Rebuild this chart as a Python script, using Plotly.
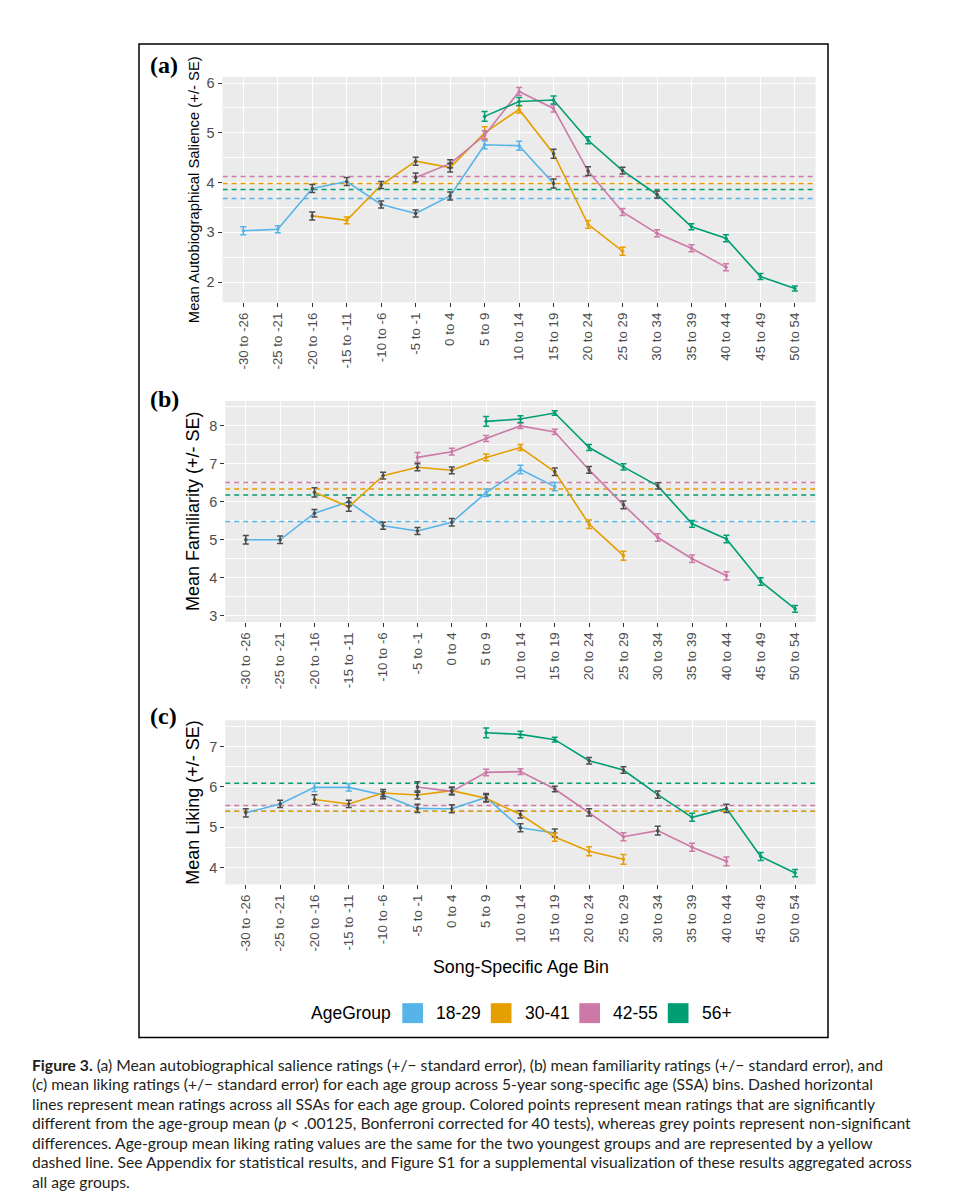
import plotly.graph_objects as go

# Categorías del eje x (bins de edad específica de la canción)
BINS = ["-30 to -26", "-25 to -21", "-20 to -16", "-15 to -11", "-10 to -6",
        "-5 to -1", "0 to 4", "5 to 9", "10 to 14", "15 to 19", "20 to 24",
        "25 to 29", "30 to 34", "35 to 39", "40 to 44", "45 to 49", "50 to 54"]

GROUPS = ["18-29", "30-41", "42-55", "56+"]
COLORS = ["#56B4E9", "#E69F00", "#CC79A7", "#009E73"]
GREY = "#4D4D4D"
N = None

# (a) Autobiographical salience
sal_18_29 = [3.03, 3.06, 3.88, 4.02, 3.56, 3.38, 3.73, 4.76, 4.74, 3.98, N, N, N, N, N, N, N]
sal_18_29_se = [0.08, 0.07, 0.08, 0.08, 0.07, 0.07, 0.08, 0.08, 0.09, 0.09, N, N, N, N, N, N, N]
sal_18_29_sig = [1, 1, 0, 0, 0, 0, 0, 1, 1, 0, N, N, N, N, N, N, N]
sal_30_41 = [N, N, 3.33, 3.24, 3.95, 4.43, 4.30, 5.00, 5.47, 4.58, 3.16, 2.62, N, N, N, N, N]
sal_30_41_se = [N, N, 0.08, 0.07, 0.07, 0.08, 0.09, 0.12, 0.07, 0.09, 0.08, 0.08, N, N, N, N, N]
sal_30_41_sig = [N, N, 0, 1, 0, 0, 0, 1, 1, 0, 1, 1, N, N, N, N, N]
sal_42_55 = [N, N, N, N, N, 4.10, 4.38, 4.95, 5.83, 5.49, 4.23, 3.41, 2.98, 2.68, 2.30, N, N]
sal_42_55_se = [N, N, N, N, N, 0.09, 0.08, 0.09, 0.08, 0.07, 0.09, 0.07, 0.07, 0.07, 0.07, N, N]
sal_42_55_sig = [N, N, N, N, N, 0, 0, 1, 1, 1, 0, 1, 1, 1, 1, N, N]
sal_56 = [N, N, N, N, N, N, N, 5.33, 5.63, 5.66, 4.85, 4.24, 3.76, 3.11, 2.88, 2.11, 1.87]
sal_56_se = [N, N, N, N, N, N, N, 0.10, 0.08, 0.08, 0.07, 0.07, 0.07, 0.06, 0.07, 0.06, 0.05]
sal_56_sig = [N, N, N, N, N, N, N, 1, 1, 1, 1, 0, 0, 1, 1, 1, 1]
sal_means = [3.68, 3.98, 4.12, 3.86]

# (b) Familiarity
fam_18_29 = [5.00, 5.00, 5.70, 6.00, 5.37, 5.23, 5.46, 6.24, 6.85, 6.40, N, N, N, N, N, N, N]
fam_18_29_se = [0.11, 0.10, 0.10, 0.11, 0.09, 0.09, 0.10, 0.10, 0.11, 0.11, N, N, N, N, N, N, N]
fam_18_29_sig = [0, 0, 0, 0, 0, 0, 0, 1, 1, 1, N, N, N, N, N, N, N]
fam_30_41 = [N, N, 6.25, 5.87, 6.69, 6.91, 6.83, 7.17, 7.43, 6.79, 5.41, 4.58, N, N, N, N, N]
fam_30_41_se = [N, N, 0.12, 0.12, 0.09, 0.09, 0.09, 0.09, 0.08, 0.10, 0.11, 0.12, N, N, N, N, N]
fam_30_41_sig = [N, N, 0, 0, 0, 0, 0, 1, 1, 0, 1, 1, N, N, N, N, N]
fam_42_55 = [N, N, N, N, N, 7.17, 7.32, 7.67, 8.00, 7.84, 6.84, 5.92, 5.06, 4.50, 4.05, N, N]
fam_42_55_se = [N, N, N, N, N, 0.13, 0.09, 0.08, 0.07, 0.07, 0.09, 0.10, 0.10, 0.10, 0.11, N, N]
fam_42_55_sig = [N, N, N, N, N, 1, 1, 1, 1, 1, 0, 0, 1, 1, 1, N, N]
fam_56 = [N, N, N, N, N, N, N, 8.12, 8.18, 8.34, 7.43, 6.92, 6.42, 5.42, 5.02, 3.90, 3.18]
fam_56_se = [N, N, N, N, N, N, N, 0.13, 0.09, 0.06, 0.08, 0.08, 0.08, 0.09, 0.10, 0.10, 0.09]
fam_56_sig = [N, N, N, N, N, N, N, 1, 1, 1, 1, 1, 0, 1, 1, 1, 1]
fam_means = [5.48, 6.34, 6.51, 6.18]

# (c) Liking
lik_18_29 = [5.36, 5.58, 5.99, 5.99, 5.80, 5.47, 5.46, 5.74, 4.99, 4.86, N, N, N, N, N, N, N]
lik_18_29_se = [0.10, 0.09, 0.10, 0.09, 0.09, 0.10, 0.10, 0.10, 0.10, 0.10, N, N, N, N, N, N, N]
lik_18_29_sig = [0, 0, 1, 1, 0, 0, 0, 0, 0, 0, N, N, N, N, N, N, N]
lik_30_41 = [N, N, 5.69, 5.58, 5.85, 5.80, 5.91, 5.72, 5.32, 4.76, 4.41, 4.21, N, N, N, N, N]
lik_30_41_se = [N, N, 0.12, 0.09, 0.09, 0.10, 0.09, 0.09, 0.09, 0.10, 0.11, 0.12, N, N, N, N, N]
lik_30_41_sig = [N, N, 0, 0, 0, 0, 0, 0, 0, 1, 1, 1, N, N, N, N, N]
lik_42_55 = [N, N, N, N, N, 6.00, 5.89, 6.36, 6.38, 5.95, 5.37, 4.77, 4.92, 4.51, 4.16, N, N]
lik_42_55_se = [N, N, N, N, N, 0.13, 0.09, 0.08, 0.07, 0.07, 0.09, 0.10, 0.11, 0.10, 0.11, N, N]
lik_42_55_sig = [N, N, N, N, N, 0, 0, 1, 1, 0, 0, 1, 0, 1, 1, N, N]
lik_56 = [N, N, N, N, N, N, N, 7.34, 7.30, 7.17, 6.65, 6.42, 5.81, 5.25, 5.47, 4.28, 3.87]
lik_56_se = [N, N, N, N, N, N, N, 0.12, 0.08, 0.06, 0.08, 0.08, 0.09, 0.10, 0.10, 0.10, 0.09]
lik_56_sig = [N, N, N, N, N, N, N, 1, 1, 1, 0, 0, 0, 1, 0, 1, 1]
lik_means = [5.40, 5.40, 5.54, 6.09]

CAPTION = [
    "<b>Figure 3.</b> (a) Mean autobiographical salience ratings (+/\u2212 standard error), (b) mean familiarity ratings (+/\u2212 standard error), and",
    "(c) mean liking ratings (+/\u2212 standard error) for each age group across 5-year song-specific age (SSA) bins. Dashed horizontal",
    "lines represent mean ratings across all SSAs for each age group. Colored points represent mean ratings that are significantly",
    "different from the age-group mean (<i>p</i> < .00125, Bonferroni corrected for 40 tests), whereas grey points represent non-significant",
    "differences. Age-group mean liking rating values are the same for the two youngest groups and are represented by a yellow",
    "dashed line. See Appendix for statistical results, and Figure S1 for a supplemental visualization of these results aggregated across",
    "all age groups.",
]

W, H = 953, 1200
FONT = "Liberation Sans, Arial, sans-serif"


def px(x):
    return x / W


def py(y):
    return 1 - y / H


PANELS = [
    dict(suf="", letter="(a)", title="Mean Autobiographical Salience (+/- SE)", title_size=14.8,
         xdom=(214.6, 807.6), ydom=(67.3, 293.3), yrange=[1.593, 6.12], letter_y=55,
         series=[(sal_18_29, sal_18_29_se, sal_18_29_sig), (sal_30_41, sal_30_41_se, sal_30_41_sig),
                 (sal_42_55, sal_42_55_se, sal_42_55_sig), (sal_56, sal_56_se, sal_56_sig)],
         means=sal_means),
    dict(suf="2", letter="(b)", title="Mean Familiarity (+/- SE)", title_size=18,
         xdom=(217.2, 807.7), ydom=(392.3, 614.0), yrange=[2.835, 8.656], letter_y=390,
         series=[(fam_18_29, fam_18_29_se, fam_18_29_sig), (fam_30_41, fam_30_41_se, fam_30_41_sig),
                 (fam_42_55, fam_42_55_se, fam_42_55_sig), (fam_56, fam_56_se, fam_56_sig)],
         means=fam_means),
    dict(suf="3", letter="(c)", title="Mean Liking (+/- SE)", title_size=18,
         xdom=(217.2, 807.7), ydom=(712.7, 877.3), yrange=[3.591, 7.648], letter_y=708,
         series=[(lik_18_29, lik_18_29_se, lik_18_29_sig), (lik_30_41, lik_30_41_se, lik_30_41_sig),
                 (lik_42_55, lik_42_55_se, lik_42_55_sig), (lik_56, lik_56_se, lik_56_sig)],
         means=lik_means),
]

fig = go.Figure()
annotations = []
shapes = []
layout_axes = {}

for p in PANELS:
    xa, ya = "x" + p["suf"], "y" + p["suf"]

    # medias por grupo (líneas discontinuas, detrás de los datos)
    for m, color in zip(p["means"], COLORS):
        shapes.append(dict(
            type="line", xref=xa, yref=ya, x0=-0.6, x1=16.6, y0=m, y1=m,
            line=dict(color=color, width=1.5, dash="5px,4px"), layer="between",
        ))

    # líneas de cada grupo
    for (vals, se, sig), color in zip(p["series"], COLORS):
        xs = [b for b, v in zip(BINS, vals) if v is not None]
        ys = [v for v in vals if v is not None]
        fig.add_trace(go.Scatter(
            x=xs, y=ys, mode="lines", xaxis=xa, yaxis=ya,
            line=dict(color=color, width=1.6), hoverinfo="skip", showlegend=False,
        ))

    # puntos con barras de error (gris = no significativo)
    for (vals, se, sig), color, name in zip(p["series"], COLORS, GROUPS):
        for flag, c in ((0, GREY), (1, color)):
            idx = [i for i, v in enumerate(vals) if v is not None and sig[i] == flag]
            if not idx:
                continue
            fig.add_trace(go.Scatter(
                x=[BINS[i] for i in idx], y=[vals[i] for i in idx],
                mode="markers", xaxis=xa, yaxis=ya, name=name,
                marker=dict(color=c, size=3.5),
                error_y=dict(type="data", array=[se[i] for i in idx], color=c,
                             thickness=1.5, width=3),
                showlegend=False,
                hovertemplate="%{x}: %{y:.2f}<extra>" + name + "</extra>",
            ))

    x0, x1 = p["xdom"]
    y0, y1 = p["ydom"]
    layout_axes["xaxis" + p["suf"]] = dict(
        domain=[px(x0), px(x1)], anchor=ya, type="category",
        categoryorder="array", categoryarray=BINS, range=[-0.6, 16.6],
        tickangle=-90, ticks="outside", ticklen=4, tickwidth=1.1, tickcolor="#333333",
        tickfont=dict(family=FONT, size=13.3, color=GREY),
        showgrid=True, gridcolor="white", gridwidth=1.2, zeroline=False, showline=False,
    )
    layout_axes["yaxis" + p["suf"]] = dict(
        domain=[py(y1), py(y0)], anchor=xa, range=p["yrange"], dtick=1, tick0=0,
        ticks="outside", ticklen=4, tickwidth=1.1, tickcolor="#333333",
        tickfont=dict(family=FONT, size=14.5, color=GREY),
        showgrid=True, gridcolor="white", gridwidth=1.2, zeroline=False, showline=False,
        minor=dict(dtick=0.5, tick0=0, showgrid=True, gridcolor="white", gridwidth=0.6, ticklen=0),
    )

    # título del eje y
    annotations.append(dict(
        text=p["title"], xref="paper", yref="paper", x=px(185.5), y=py((y0 + y1) / 2),
        textangle=-90, showarrow=False, xanchor="center", yanchor="middle",
        font=dict(family=FONT, size=p["title_size"], color="black"),
    ))
    # letra del panel
    annotations.append(dict(
        text="<b>" + p["letter"] + "</b>", xref="paper", yref="paper", x=px(140), y=py(p["letter_y"]),
        showarrow=False, xanchor="left", yanchor="middle",
        font=dict(family="Liberation Serif, Times New Roman, serif", size=24, color="black"),
    ))

# título eje x del panel (c)
annotations.append(dict(
    text="Song-Specific Age Bin", xref="paper", yref="paper", x=px(512.5), y=py(960),
    showarrow=False, xanchor="center", yanchor="middle",
    font=dict(family=FONT, size=17.8, color="black"),
))

# leyenda manual
annotations.append(dict(
    text="AgeGroup", xref="paper", yref="paper", x=px(301), y=py(1006.5),
    showarrow=False, xanchor="left", yanchor="middle",
    font=dict(family=FONT, size=17.5, color="black"),
))
for i, (g, c) in enumerate(zip(GROUPS, COLORS)):
    left = 394.3 + i * 88.5
    shapes.append(dict(
        type="rect", xref="paper", yref="paper",
        x0=px(left), x1=px(left + 20.7), y0=py(1016.5), y1=py(996.5),
        fillcolor=c, line=dict(width=0),
    ))
    annotations.append(dict(
        text=g, xref="paper", yref="paper", x=px(left + 32), y=py(1006.5),
        showarrow=False, xanchor="left", yanchor="middle",
        font=dict(family=FONT, size=17.5, color="black"),
    ))

# marco de la figura
shapes.append(dict(
    type="rect", xref="paper", yref="paper", x0=px(131), x1=px(820), y0=py(1031), y1=py(34),
    line=dict(color="black", width=1.5), fillcolor="rgba(0,0,0,0)",
))

# pie de figura
for k, line in enumerate(CAPTION):
    annotations.append(dict(
        text=line, xref="paper", yref="paper", x=px(21.5), y=py(1058.3 + k * 19.6),
        showarrow=False, xanchor="left", yanchor="middle",
        font=dict(family="Lato, sans-serif", size=15.7, color="#231F20"),
    ))

fig.update_layout(
    width=W, height=H,
    margin=dict(l=0, r=0, t=0, b=0),
    paper_bgcolor="white",
    plot_bgcolor="#EBEBEB",
    showlegend=False,
    shapes=shapes,
    annotations=annotations,
    **layout_axes,
)

fig.write_html("out.html")
